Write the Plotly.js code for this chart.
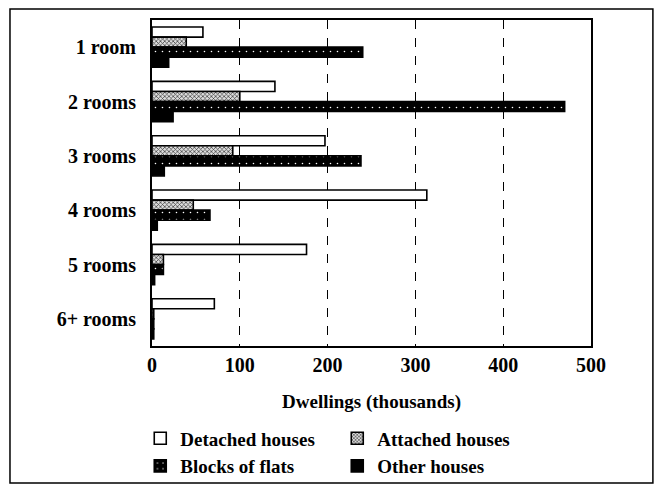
<!DOCTYPE html>
<html>
<head>
<meta charset="utf-8">
<script src="https://cdn.plot.ly/plotly-3.0.1.min.js"></script>
<style>
  html, body { margin: 0; padding: 0; background: #fff; }
  #chart { width: 658px; height: 486px; }
</style>
</head>
<body>
<div id="chart"></div>
<script>
const categories = ["1 room", "2 rooms", "3 rooms", "4 rooms", "5 rooms", "6+ rooms"];
const detached = [58, 140, 197, 313, 176, 71];
const attached = [39, 100, 92, 47, 13, 2];
const flats = [240, 470, 238, 66, 13, 2];
const other = [19, 24, 14, 6, 3, 2];
const xTicks = [0, 100, 200, 300, 400, 500];

const FONT = "Liberation Serif";
const line = {color: "#000", width: 1.6};

const traces = [
  {name: "Detached houses", y: categories, x: detached, type: "bar", orientation: "h",
   marker: {color: "#fff", line: line}},
  {name: "Attached houses", y: categories, x: attached, type: "bar", orientation: "h",
   marker: {color: "#fff", line: line,
            pattern: {shape: "x", fgcolor: "#333", bgcolor: "#ddd", size: 3, solidity: 0.4}}},
  {name: "Blocks of flats", y: categories, x: flats, type: "bar", orientation: "h",
   marker: {color: "#000", line: line,
            pattern: {shape: ".", fgcolor: "#fff", bgcolor: "#000", size: 7, solidity: 0.04}}},
  {name: "Other houses", y: categories, x: other, type: "bar", orientation: "h",
   marker: {color: "#000", line: line}}
];

const layout = {
  width: 658, height: 486,
  margin: {l: 152, r: 67, t: 20, b: 140, autoexpand: false},
  paper_bgcolor: "#fff", plot_bgcolor: "#fff",
  font: {family: FONT, color: "#000", size: 17, weight: "bold"},
  barmode: "group", bargap: 0.26, bargroupgap: 0,
  showlegend: true,
  legend: {orientation: "h", x: 0.422, xanchor: "center", y: -0.225, yanchor: "top",
           bgcolor: "rgba(0,0,0,0)",
           font: {family: FONT, size: 19, color: "#000", weight: "bold"},
           itemwidth: 30, entrywidth: 152, entrywidthmode: "pixels",
           tracegroupgap: 0, traceorder: "normal"},
  xaxis: {range: [0, 500], tickvals: xTicks, ticktext: xTicks.map(String),
          showgrid: true, gridcolor: "#000", griddash: "dash", gridwidth: 1.3,
          zeroline: false, showline: true, linecolor: "#000", linewidth: 2, mirror: true,
          ticks: "", ticklen: 0,
          tickfont: {family: FONT, size: 20, color: "#000", weight: "bold"},
          title: {text: "Dwellings (thousands)", standoff: 20,
                  font: {family: FONT, size: 19, color: "#000", weight: "bold"}}},
  yaxis: {type: "category", autorange: "reversed", showgrid: false, zeroline: false,
          showline: true, linecolor: "#000", linewidth: 2, mirror: true, ticks: "",
          ticklabelstandoff: 10,
          tickfont: {family: FONT, size: 20, color: "#000", weight: "bold"}},
  shapes: [
    {type: "rect", xref: "paper", yref: "paper",
     x0: -0.3235, x1: 1.141, y0: -0.42, y1: 1.034,
     line: {color: "#000", width: 1.5}, fillcolor: "rgba(0,0,0,0)"}
  ]
};

Plotly.newPlot("chart", traces, layout, {displayModeBar: false, staticPlot: true});
</script>
</body>
</html>
